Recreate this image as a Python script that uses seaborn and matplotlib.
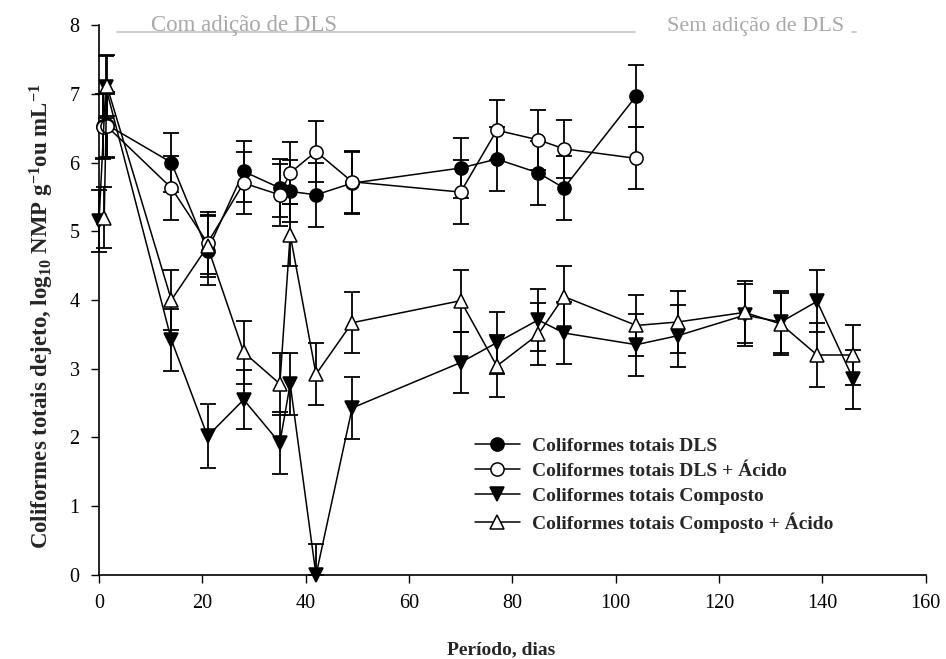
import numpy as np
import seaborn as sns
import matplotlib.pyplot as plt

# days and values
dias_dls = [0.7, 1.5, 14, 21, 28, 35, 37, 42, 49, 70, 77, 85, 90, 104]
dls = [6.53, 6.55, 6.0, 4.72, 5.87, 5.63, 5.58, 5.53, 5.70, 5.92, 6.05, 5.85, 5.63, 6.97]
dls_err = [0.47, 0.47, 0.43, 0.5, 0.44, 0.42, 0.45, 0.47, 0.45, 0.44, 0.46, 0.47, 0.47, 0.45]
dls_acido = [6.52, 6.53, 5.63, 4.83, 5.70, 5.53, 5.85, 6.16, 5.72, 5.57, 6.47, 6.33, 6.20, 6.06]
dls_acido_err = [0.47, 0.47, 0.47, 0.45, 0.45, 0.45, 0.45, 0.45, 0.45, 0.46, 0.44, 0.44, 0.42, 0.45]

dias_comp = [0, 1.3, 14, 21, 28, 35, 37, 42, 49, 70, 77, 85, 90, 104, 112, 125, 132, 139, 146]
composto = [5.15, 7.10, 3.42, 2.02, 2.55, 1.92, 2.78, 0.0, 2.43, 3.09, 3.38, 3.71, 3.52,
            3.35, 3.48, 3.78, 3.68, 3.98, 2.85]
composto_err = [0.45, 0.45, 0.45, 0.46, 0.43, 0.45, 0.45, 0.45, 0.45, 0.45, 0.45, 0.45, 0.45,
                0.45, 0.45, 0.45, 0.45, 0.45, 0.43]
dias_comp_acido = [1, 1.5, 14, 21, 28, 35, 37, 42, 49, 70, 77, 85, 90, 104, 112, 125, 132, 139, 146]
composto_acido = [5.20, 7.12, 4.00, 4.78, 3.24, 2.78, 4.95, 2.92, 3.67, 3.99, 3.04, 3.50, 4.05,
                  3.63, 3.68, 3.82, 3.65, 3.20, 3.20]
composto_acido_err = [0.45, 0.45, 0.44, 0.45, 0.46, 0.45, 0.45, 0.45, 0.44, 0.45, 0.45, 0.45, 0.45,
                      0.45, 0.45, 0.45, 0.45, 0.46, 0.43]

series = [
    ("Coliformes totais DLS", dias_dls, dls, dls_err, "o", "black"),
    ("Coliformes totais DLS + Ácido", dias_dls, dls_acido, dls_acido_err, "o", "white"),
    ("Coliformes totais Composto", dias_comp, composto, composto_err, "v", "black"),
    ("Coliformes totais Composto + Ácido", dias_comp_acido, composto_acido, composto_acido_err, "^", "white"),
]

sns.set_style("ticks")
plt.rcParams['font.family'] = ['Liberation Serif', 'DejaVu Serif']
plt.rcParams['mathtext.fontset'] = 'custom'
plt.rcParams['mathtext.rm'] = 'Liberation Serif'
plt.rcParams['mathtext.bf'] = 'Liberation Serif:bold'
plt.rcParams['mathtext.it'] = 'Liberation Serif:italic'

fig = plt.figure(figsize=(9.46, 6.59), dpi=100)
ax = fig.add_axes([0.1047, 0.1275, 0.8737, 0.8345])

for label, x, y, err, mk, face in series:
    y = np.array(y)
    err = np.array(err)
    low = np.minimum(err, y)
    ax.errorbar(x, y, yerr=[low, err], fmt='none', ecolor='black', elinewidth=1.3,
                capsize=6, capthick=1.3, clip_on=False, zorder=2)
    sns.lineplot(x=x, y=y, ax=ax, color='black', lw=1.1, marker=mk,
                 markersize=10 if mk != 'o' else 9.5, markerfacecolor=face,
                 markeredgecolor='black', markeredgewidth=1.1, label=label,
                 clip_on=False, zorder=3)

ax.set_xlim(0, 160)
ax.set_ylim(0, 8)
ax.set_xticks(range(0, 161, 20))
ax.set_yticks(range(0, 9))
ax.tick_params(axis='both', direction='out', length=6, width=1, colors='black',
               labelsize=14.5, pad=8)
for s in ['top', 'right']:
    ax.spines[s].set_visible(False)
for s in ['left', 'bottom']:
    ax.spines[s].set_linewidth(1.2)
    ax.spines[s].set_color('black')

ax.set_xlabel("Período, dias", fontsize=14, fontweight='bold')
ax.xaxis.set_label_coords(0.487, -0.12)
ax.set_ylabel(r"Coliformes totais dejeto, log$_{\mathbf{10}}$ NMP g$^{\mathbf{-1}}$ou mL$^{\mathbf{-1}}$",
              fontsize=16.5, fontweight='bold')
ax.yaxis.set_label_coords(-0.052, 0.47)

# period annotations
ax.plot([3.5, 103.8], [7.9, 7.9], color='#c8c8c8', lw=1.3, clip_on=False, zorder=1)
ax.plot([145.8, 146.6], [7.9, 7.9], color='#c8c8c8', lw=1.3, clip_on=False, zorder=1)
ax.text(10, 7.92, "Com adição de DLS", color='#a8a8a8', fontsize=16.5, va='baseline', ha='left')
ax.text(109.9, 7.92, "Sem adição de DLS", color='#a8a8a8', fontsize=16, va='baseline', ha='left')

leg = ax.legend(loc='upper left', bbox_to_anchor=(0.455, 0.25), frameon=False,
                borderaxespad=0, borderpad=0, handlelength=2.3, handletextpad=0.65,
                labelspacing=0.38, prop={'size': 14, 'weight': 'bold'})

plt.savefig('out.png', dpi=100)
